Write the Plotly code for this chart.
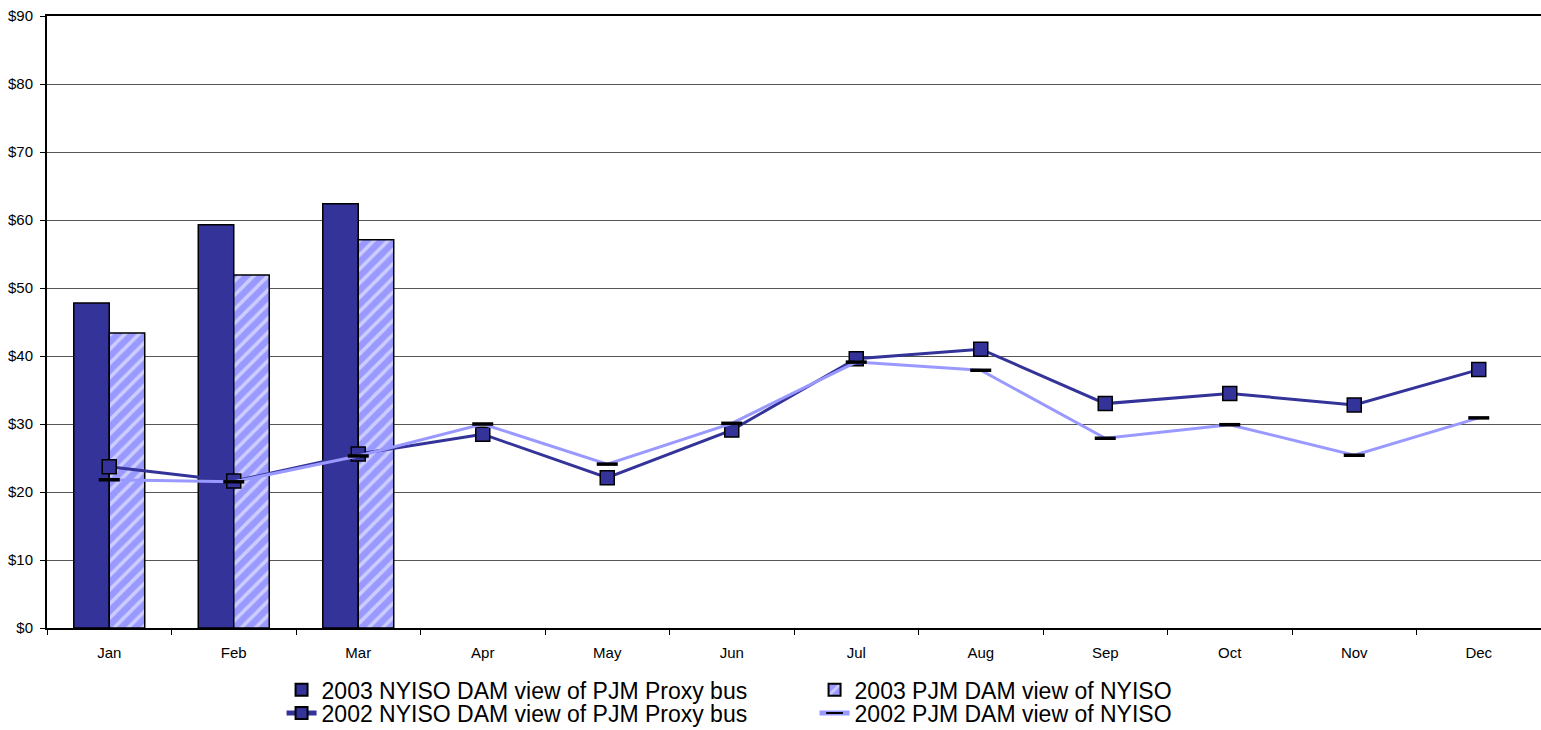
import plotly.graph_objects as go

months = ["Jan", "Feb", "Mar", "Apr", "May", "Jun", "Jul", "Aug", "Sep", "Oct", "Nov", "Dec"]
bar_months = ["Jan", "Feb", "Mar"]
nyiso_2003 = [47.8, 59.3, 62.4]
pjm_2003 = [43.4, 51.9, 57.1]
nyiso_2002 = [23.7, 21.6, 25.6, 28.5, 22.1, 29.1, 39.6, 41.0, 33.0, 34.5, 32.8, 38.0]
pjm_2002 = [21.8, 21.5, 25.3, 30.0, 24.1, 30.1, 39.1, 37.9, 27.9, 29.9, 25.4, 30.9]
y_ticks = [0, 10, 20, 30, 40, 50, 60, 70, 80, 90]
y_tick_labels = ["$0", "$10", "$20", "$30", "$40", "$50", "$60", "$70", "$80", "$90"]

DARK = "#333399"
LIGHT = "#9999FF"
FONT = "Arial, Liberation Sans, sans-serif"

fig = go.Figure()
fig.add_trace(go.Bar(
    x=bar_months, y=nyiso_2003, name="2003 NYISO DAM view of PJM Proxy bus",
    marker=dict(color=DARK, line=dict(color="black", width=1.5)),
    legend="legend",
))
fig.add_trace(go.Bar(
    x=bar_months, y=pjm_2003, name="2003 PJM DAM view of NYISO",
    marker=dict(color=LIGHT, line=dict(color="black", width=1.5),
                pattern=dict(shape="/", fgcolor="white", bgcolor=LIGHT, size=10, solidity=0.35)),
    legend="legend",
))
fig.add_trace(go.Scatter(
    x=months, y=nyiso_2002, name="2002 NYISO DAM view of PJM Proxy bus",
    mode="lines+markers",
    line=dict(color=DARK, width=3),
    marker=dict(symbol="square", size=14, color=DARK, line=dict(color="black", width=1.5)),
    legend="legend2",
))
fig.add_trace(go.Scatter(
    x=months, y=pjm_2002, name="2002 PJM DAM view of NYISO",
    mode="lines+markers",
    line=dict(color=LIGHT, width=3),
    marker=dict(symbol="line-ew", size=15, color="black", line=dict(color="black", width=3.5)),
    legend="legend2",
))

legend_common = dict(
    orientation="h", x=0.157, xanchor="left", yanchor="middle",
    font=dict(family=FONT, size=23, color="black"),
    entrywidth=488, entrywidthmode="pixels",
    itemsizing="constant", bgcolor="rgba(0,0,0,0)",
)

fig.update_layout(
    width=1541, height=730,
    margin=dict(l=47, r=0, t=16, b=102, autoexpand=False),
    plot_bgcolor="white", paper_bgcolor="white",
    font=dict(family=FONT, color="black", size=15),
    barmode="group", bargap=0.43, bargroupgap=0,
    showlegend=True,
    legend=dict(legend_common, y=-0.101),
    legend2=dict(legend_common, y=-0.139),
)
fig.update_xaxes(
    categoryorder="array", categoryarray=months, range=[-0.5, 11.5], autorange=False,
    showline=True, linecolor="black", linewidth=2, mirror=True,
    ticks="outside", tickson="boundaries", ticklen=5, tickcolor="black",
    showgrid=False, tickfont=dict(size=15), ticklabelstandoff=10,
)
fig.update_yaxes(
    range=[0, 90], tickmode="array", tickvals=y_ticks, ticktext=y_tick_labels,
    showline=True, linecolor="black", linewidth=2,
    ticks="outside", ticklen=5, tickcolor="black",
    showgrid=True, gridcolor="#555555", gridwidth=1,
    tickfont=dict(size=15), zeroline=False, ticklabelstandoff=4,
)

fig.write_html("out.html", config={"displayModeBar": False},
               post_script="document.body.style.margin='0px';")
